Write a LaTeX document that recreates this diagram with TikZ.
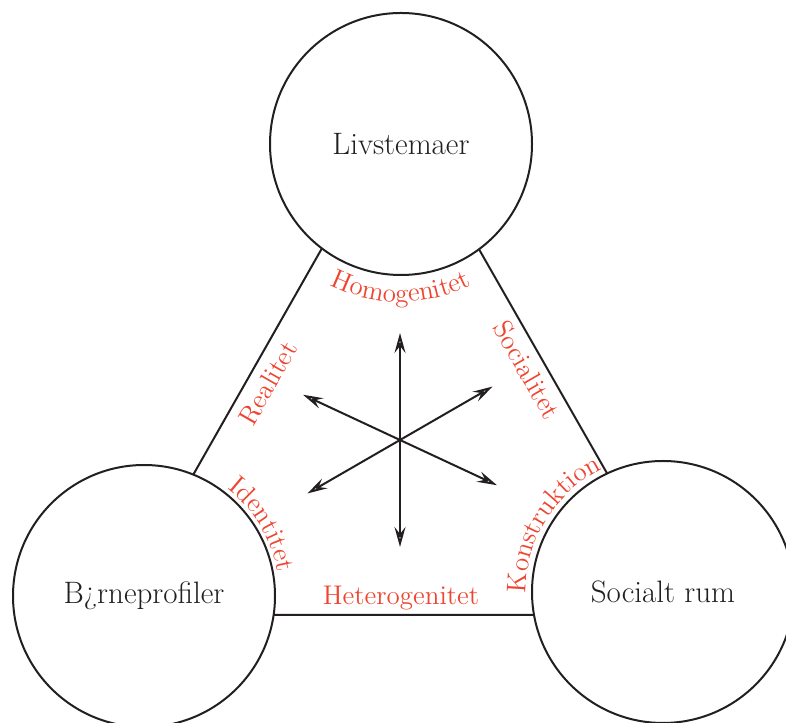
\documentclass[tikz,border=0pt]{standalone}
\usepackage{tikz}
\usetikzlibrary{arrows.meta,decorations.text}
\definecolor{labred}{RGB}{238,68,48}
\definecolor{ink}{RGB}{35,31,32}
\newcommand{\labfont}{\fontsize{13.5}{16}\selectfont\color{labred}}

\begin{document}
\begin{tikzpicture}[x=0.5pt,y=0.5pt,
		theme/.style={circle,draw=ink,line width=1pt,fill=white,minimum size=131pt,inner sep=0pt,text=ink,font=\fontsize{15.5}{18}\selectfont},
		edge/.style={draw=ink,line width=1pt},
		lab/.style={text=labred,font=\labfont,inner sep=0pt},
		arr/.style={draw=ink,line width=1pt,-{Stealth[open,length=10pt,width=5.5pt,inset=3.5pt]}},
		curved/.style={decorate,decoration={text along path,text align=center,text={|\labfont|#1}}}]
		\useasboundingbox (0,0) rectangle (786,722);
		\coordinate (tA) at (400,611);
		\coordinate (tB) at (113.5,107);
		\coordinate (tC) at (688,107);
		\draw[edge] (tA) -- (tB) -- (tC) -- cycle;
		\node[theme] (liv) at (401,578) {Livstemaer};
		\node[theme] (born) at (144,126) {B¿rneprofiler};
		\node[theme] (soc) at (663,130) {Socialt rum};
		\coordinate (mid) at (400,282);
		\foreach \a in {90,270,30,210,155,335}
			\draw[arr] (mid) -- ++(\a:107) coordinate (tip\a);
		\node[lab,rotate=60] (real) at (268,339) {Realitet};
		\node[lab,rotate=-60] (socl) at (527,352) {Socialitet};
		\node[lab,anchor=base] (het) at (401,117) {Heterogenitet};
		\path[curved=Homogenitet] (liv.center) ++(235:158) arc[start angle=235,end angle=305,radius=158];
		\path[curved=Identitet] (born.center) ++(62:136) arc[start angle=62,end angle=0,radius=136];
		\path[curved=Konstruktion] (soc.center) ++(183:137) arc[start angle=183,end angle=114,radius=137];
\end{tikzpicture}
\end{document}
